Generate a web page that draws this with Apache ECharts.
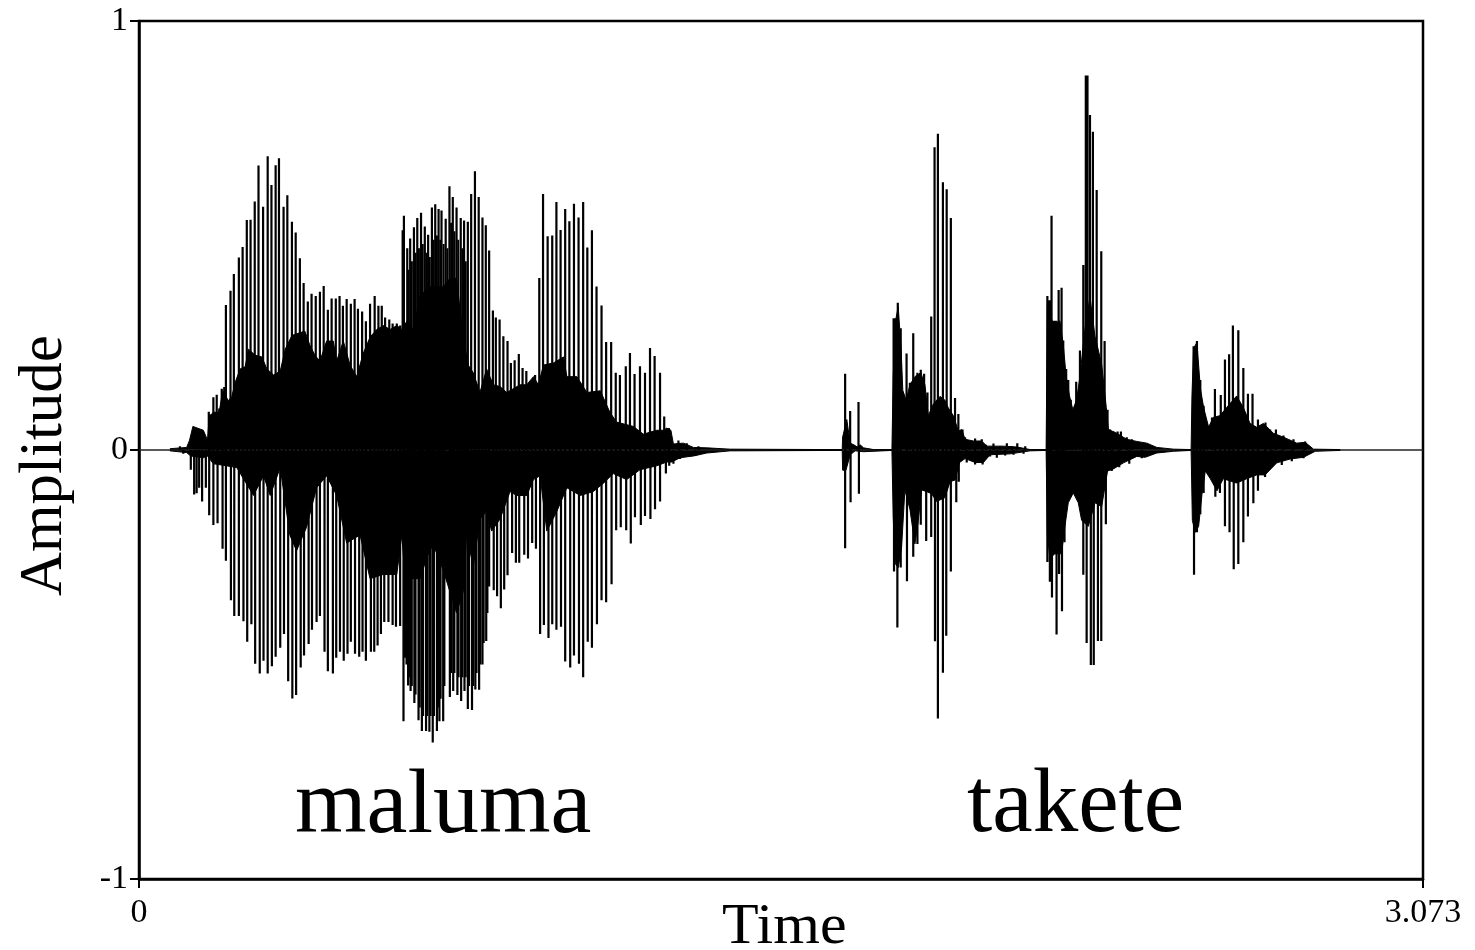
<!DOCTYPE html>
<html><head><meta charset="utf-8">
<style>html,body{margin:0;padding:0;background:#fff}#c{width:1475px;height:950px}</style>
<script src="https://cdn.jsdelivr.net/npm/echarts@6/dist/echarts.min.js"></script>
</head><body><div id="c"></div>
<script>
const yTicks = [-1, 0, 1];
const xTicks = [0, 3.073];
const words = ['maluma', 'takete'];
const upTimes = [.098,.167,.172,.178,.186,.192,.198,.204,.208,.219,.227,.239,.248,.258,.267,.277,.286,.297,.308,.317,.327,.335,.346,.355,.366,.375,.385,.394,.404,.413,.423,.433,.442,.452,.461,.471,.480,.488,.497,.507,.516,.524,.534,.543,.553,.564,.573,.581,.589,.599,.607,.617,.625,.631,.634,.642,.649,.658,.666,.675,.684,.692,.701,.709,.717,.724,.734,.743,.751,.760,.770,.778,.787,.795,.804,.813,.822,.830,.838,.847,.854,.863,.872,.882,.890,.899,.909,.918,.927,.938,.948,.958,.967,.978,.989,.999,1.009,1.020,1.030,1.041,1.052,1.063,1.073,1.084,1.095,1.107,1.118,1.130,1.141,1.151,1.165,1.175,1.186,1.199,1.211,1.223,1.234,1.247,1.257,1.268,1.291,1.311,1.339,
1.690,1.702,1.722,1.806,1.810,1.816,1.823,1.837,1.845,1.853,1.863,1.871,1.879,1.887,1.896,1.904,1.912,1.924,1.933,1.943,1.953,1.961,1.971,1.977,1.988,2.001,2.017,2.027,2.045,2.061,2.077,2.089,2.102,2.121,
2.174,2.179,2.184,2.190,2.195,2.201,2.208,2.212,2.219,2.224,2.230,2.236,2.243,2.252,2.260,2.266,2.270,2.276,2.283,2.292,2.303,2.311,2.318,2.324,2.332,2.342,2.350,2.364,2.376,
2.524,2.532,2.540,2.548,2.556,2.568,2.575,2.589,2.599,2.609,2.618,2.631,2.643,2.654,2.665,2.678,2.696,2.707,2.721,2.739,2.763,2.791];
const upPeaks = [.009,.089,.083,.123,.129,.097,.143,.147,.338,.371,.410,.449,.473,.536,.537,.579,.663,.567,.685,.618,.664,.680,.567,.594,.532,.507,.447,.389,.346,.364,.359,.369,.382,.327,.353,.353,.359,.336,.352,.341,.352,.329,.323,.300,.341,.359,.336,.336,.309,.304,.295,.295,.290,.512,.546,.470,.493,.519,.541,.553,.521,.502,.565,.573,.562,.558,.539,.615,.590,.565,.541,.535,.532,.597,.650,.590,.542,.524,.465,.325,.309,.304,.265,.254,.203,.209,.224,.191,.184,.161,.175,.401,.597,.498,.500,.578,.513,.562,.533,.574,.542,.578,.472,.512,.381,.337,.252,.252,.180,.175,.195,.226,.177,.195,.180,.238,.219,.180,.078,.051,.022,.016,.009,
.178,.091,.112,.307,.307,.343,.284,.225,.157,.272,.180,.187,.178,.134,.311,.706,.737,.624,.608,.541,.121,.084,.048,.030,.021,.027,.025,.012,.015,.009,.016,.009,.016,.009,
.359,.349,.546,.301,.301,.373,.378,.255,.189,.163,.117,.094,.159,.232,.431,.873,.873,.781,.742,.606,.463,.254,.094,.048,.043,.043,.043,.030,.025,
.242,.254,.163,.103,.062,.076,.142,.128,.211,.223,.290,.279,.191,.131,.131,.071,.064,.048,.048,.034,.025,.020];
const downTimes = [.106,.124,.132,.138,.144,.151,.160,.168,.178,.188,.200,.208,.220,.228,.239,.250,.259,.269,.278,.289,.298,.308,.318,.327,.338,.347,.357,.367,.376,.387,.395,.406,.414,.425,.433,.444,.452,.464,.472,.481,.490,.499,.507,.517,.527,.535,.543,.555,.563,.571,.579,.587,.597,.607,.615,.625,.633,.637,.644,.650,.659,.669,.677,.687,.695,.703,.713,.719,.728,.744,.752,.762,.771,.779,.787,.797,.805,.814,.822,.831,.838,.849,.857,.866,.874,.882,.893,.902,.910,.922,.931,.941,.950,.960,.969,.980,.989,.999,1.010,1.020,1.032,1.041,1.053,1.063,1.074,1.084,1.096,1.107,1.118,1.131,1.142,1.153,1.166,1.177,1.187,1.201,1.211,1.224,1.235,1.247,1.261,1.269,1.279,1.295,1.331,
1.690,1.703,1.723,1.807,1.815,1.823,1.838,1.853,1.863,1.871,1.884,1.896,1.905,1.912,1.924,1.932,1.943,1.956,1.962,1.981,2.001,2.019,2.037,2.053,2.073,2.093,2.117,
2.174,2.180,2.185,2.196,2.202,2.209,2.215,2.260,2.268,2.278,2.285,2.295,2.303,2.314,2.328,2.346,2.370,2.400,
2.525,2.532,2.540,2.548,2.576,2.587,2.599,2.610,2.620,2.631,2.643,2.654,2.667,2.678,2.695,2.711,2.735,2.759,2.787];
const downPeaks = [-.009,-.046,-.104,-.101,-.088,-.120,-.088,-.152,-.175,-.171,-.230,-.258,-.350,-.387,-.387,-.399,-.447,-.406,-.498,-.521,-.491,-.521,-.504,-.482,-.461,-.429,-.539,-.579,-.571,-.507,-.479,-.452,-.419,-.401,-.387,-.470,-.516,-.521,-.484,-.470,-.491,-.475,-.447,-.475,-.482,-.470,-.491,-.470,-.470,-.456,-.429,-.401,-.401,-.408,-.412,-.410,-.632,-.484,-.549,-.562,-.590,-.630,-.655,-.655,-.657,-.682,-.655,-.632,-.632,-.576,-.562,-.571,-.585,-.562,-.604,-.606,-.558,-.559,-.500,-.445,-.318,-.327,-.341,-.369,-.325,-.292,-.240,-.263,-.263,-.244,-.253,-.217,-.230,-.429,-.408,-.438,-.406,-.419,-.412,-.493,-.507,-.479,-.498,-.530,-.447,-.461,-.406,-.350,-.355,-.313,-.187,-.180,-.187,-.218,-.157,-.175,-.154,-.161,-.138,-.120,-.055,-.037,-.032,-.021,-.014,
-.229,-.122,-.102,-.283,-.414,-.274,-.306,-.249,-.219,-.174,-.212,-.203,-.446,-.626,-.519,-.433,-.283,-.122,-.074,-.029,-.034,-.034,-.015,-.018,-.013,-.011,-.009,
-.261,-.307,-.344,-.430,-.289,-.376,-.215,-.291,-.450,-.501,-.501,-.445,-.445,-.173,-.049,-.040,-.032,-.019,
-.291,-.192,-.150,-.100,-.109,-.100,-.178,-.192,-.278,-.266,-.215,-.155,-.124,-.095,-.063,-.040,-.035,-.026,-.019];
const innerUpTimes = [.645,.653,.662,.670,.679,.688,.696,.705,.713,.721,.729,.738,.747,.755,.764,.774,.782];
const innerUpPeaks = [.42,.44,.46,.47,.48,.46,.45,.49,.50,.49,.48,.47,.53,.51,.49,.47,.44];
const innerDownTimes = [.640,.647,.653,.662,.672,.680,.690,.698,.706,.716,.722,.731,.747,.755,.765,.774,.782,.790,.800,.808,.817,.825,.834];
const innerDownPeaks = [-.50,-.53,-.55,-.57,-.60,-.62,-.62,-.62,-.62,-.60,-.58,-.55,-.52,-.52,-.53,-.53,-.53,-.55,-.55,-.52,-.50,-.45,-.38];
const coreUpTimes = [.074,.114,.121,.129,.154,.164,.168,.178,.192,.200,.214,.222,.230,.242,.254,.262,.278,.294,.306,.322,.338,.350,.366,.381,.397,.409,.421,.433,.449,.465,.473,.489,.505,.521,.537,.553,.569,.585,.601,.617,.629,.641,.657,.673,.697,.728,.744,.760,.776,.788,.800,.816,.832,.848,.864,.880,.896,.912,.928,.944,.956,.968,.992,1.016,1.024,1.048,1.072,1.104,1.127,1.143,1.183,1.207,1.239,1.255,1.263,1.273,1.279,1.303,1.327,1.359,1.415,
1.654,1.683,1.684,1.694,1.702,1.711,1.719,1.726,1.734,1.758,1.802,1.805,1.810,1.817,1.824,1.828,1.836,1.845,1.857,1.871,1.881,1.889,1.901,1.917,1.929,1.937,1.949,1.961,1.969,1.977,1.997,2.017,2.029,2.069,2.101,2.133,
2.171,2.174,2.180,2.188,2.204,2.212,2.219,2.227,2.235,2.244,2.252,2.264,2.276,2.288,2.304,2.315,2.320,2.340,2.364,2.388,2.412,2.436,2.476,2.518,2.520,2.524,2.532,2.540,2.548,2.560,2.571,2.587,2.603,2.627,2.643,2.659,2.675,2.691,2.715,2.739,2.771,2.791,2.811,2.875];
const coreUpper = [.003,.006,.023,.055,.046,.023,.078,.088,.088,.138,.115,.124,.157,.189,.194,.235,.221,.217,.189,.175,.184,.235,.267,.272,.277,.244,.221,.207,.254,.254,.207,.254,.198,.171,.226,.263,.281,.290,.281,.290,.281,.300,.281,.360,.380,.380,.400,.400,.263,.198,.180,.134,.189,.152,.148,.134,.143,.152,.152,.171,.152,.198,.203,.217,.171,.171,.134,.138,.088,.065,.055,.037,.046,.046,.051,.046,.014,.016,.006,.005,.002,
.001,.001,.030,.071,.016,.012,.007,.012,.005,.001,.001,.171,.298,.334,.234,.139,.116,.152,.171,.180,.152,.080,.107,.125,.116,.098,.080,.044,.048,.025,.021,.021,.009,.009,.007,.001,
.001,.338,.320,.292,.301,.246,.172,.126,.094,.117,.172,.283,.357,.265,.200,.099,.048,.039,.025,.020,.016,.006,.002,.001,.126,.237,.251,.145,.099,.053,.076,.080,.099,.126,.099,.062,.053,.062,.039,.030,.016,.018,.002,.001];
const coreDownTimes = [.074,.114,.124,.154,.164,.178,.210,.234,.274,.298,.314,.338,.361,.377,.401,.425,.449,.473,.497,.529,.553,.585,.617,.629,.633,.649,.673,.689,.704,.728,.744,.760,.776,.784,.800,.816,.832,.844,.864,.888,.904,.928,.944,.960,.976,1.000,1.024,1.056,1.087,1.111,1.135,1.167,1.199,1.239,1.263,1.275,1.295,1.327,1.359,1.415,
1.683,1.684,1.692,1.702,1.714,1.734,1.802,1.805,1.810,1.817,1.825,1.833,1.845,1.857,1.865,1.873,1.885,1.897,1.909,1.929,1.941,1.953,1.964,1.977,2.001,2.021,2.037,2.085,2.133,
2.171,2.174,2.180,2.192,2.208,2.216,2.224,2.236,2.248,2.256,2.272,2.288,2.304,2.318,2.332,2.356,2.388,2.408,2.436,2.476,2.518,2.521,2.528,2.536,2.544,2.552,2.564,2.580,2.595,2.627,2.651,2.675,2.695,2.723,2.755,2.787,2.815,2.875];
const coreLower = [-.002,-.006,-.014,-.018,-.014,-.032,-.037,-.041,-.106,-.060,-.106,-.041,-.198,-.235,-.180,-.088,-.060,-.106,-.217,-.198,-.300,-.290,-.290,-.198,-.250,-.300,-.300,-.250,-.220,-.280,-.330,-.380,-.330,-.198,-.272,-.161,-.143,-.189,-.161,-.097,-.106,-.106,-.069,-.060,-.189,-.143,-.088,-.106,-.097,-.078,-.055,-.069,-.046,-.037,-.028,-.028,-.018,-.014,-.007,-.002,
-.001,-.047,-.047,-.011,-.002,-.004,-.001,-.156,-.265,-.274,-.229,-.093,-.138,-.219,-.165,-.093,-.097,-.102,-.120,-.111,-.074,-.070,-.029,-.020,-.029,-.029,-.011,-.009,-.002,
-.001,-.196,-.252,-.242,-.242,-.178,-.123,-.100,-.123,-.164,-.178,-.123,-.132,-.049,-.044,-.030,-.015,-.017,-.007,-.003,-.001,-.164,-.192,-.178,-.104,-.049,-.067,-.095,-.067,-.077,-.067,-.058,-.058,-.030,-.021,-.017,-.003,-.001];

const font = '"Liberation Serif","Times New Roman",serif';
const spikes = (ts, vs) => ts.flatMap((t, i) => [[t, 0], [t, vs[i]], [t, null]]);
const zip = (ts, vs) => ts.map((t, i) => [t, vs[i]]);
const black = '#000';
const base = {type:'line', showSymbol:false, symbol:'none', animation:false, silent:true, connectNulls:false, clip:true};
const chart = echarts.init(document.getElementById('c'), null, {renderer:'canvas'});
chart.setOption({
  animation:false,
  backgroundColor:'#fff',
  grid:{left:139, right:52, top:21, bottom:71, show:true, borderColor:black, borderWidth:2.5, backgroundColor:'transparent'},
  xAxis:{type:'value', min:xTicks[0], max:xTicks[1], splitLine:{show:false},
    axisLine:{show:true, onZero:false, lineStyle:{color:black, width:2.5}},
    axisTick:{show:true, length:9, lineStyle:{color:black, width:2}, customValues:xTicks},
    axisLabel:{show:true, color:black, fontFamily:font, fontSize:34, margin:17, customValues:xTicks, showMinLabel:true, showMaxLabel:true,
      hideOverlap:false, formatter:v=>String(v)}},
  yAxis:{type:'value', min:yTicks[0], max:yTicks[2], interval:1, splitLine:{show:false},
    axisLine:{show:true, onZero:false, lineStyle:{color:black, width:2.5}},
    axisTick:{show:true, length:9, lineStyle:{color:black, width:2}},
    axisLabel:{show:true, color:black, fontFamily:font, fontSize:34, margin:11}},
  series:[
    {...base, name:'baseline', data:[[xTicks[0],0],[xTicks[1],0]], lineStyle:{color:'#222', width:1.5}},
    {...base, name:'core+', data:zip(coreUpTimes, coreUpper), lineStyle:{color:black, width:1}, areaStyle:{color:black, opacity:1}},
    {...base, name:'core-', data:zip(coreDownTimes, coreLower), lineStyle:{color:black, width:1}, areaStyle:{color:black, opacity:1}},
    {...base, name:'pulses+', data:spikes(upTimes, upPeaks), lineStyle:{color:black, width:2.2}},
    {...base, name:'pulses-', data:spikes(downTimes, downPeaks), lineStyle:{color:black, width:2.2}},
    {...base, name:'inner+', data:spikes(innerUpTimes, innerUpPeaks), lineStyle:{color:black, width:2}},
    {...base, name:'inner-', data:spikes(innerDownTimes, innerDownPeaks), lineStyle:{color:black, width:2}}
  ],
  graphic:[
    {type:'text', x:295, y:762, silent:true, style:{text:words[0], fontFamily:font, fontSize:92, fill:black}},
    {type:'text', x:967, y:762, silent:true, style:{text:words[1], fontFamily:font, fontSize:91, fill:black}},
    {type:'text', x:722, y:899.5, scaleY:.95, silent:true, style:{text:'Time', fontFamily:font, fontSize:60, fill:black}},
    {type:'text', x:14, y:596, rotation:Math.PI/2, silent:true, style:{text:'Amplitude', fontFamily:font, fontSize:61, fill:black}}
  ]
});
</script></body></html>
